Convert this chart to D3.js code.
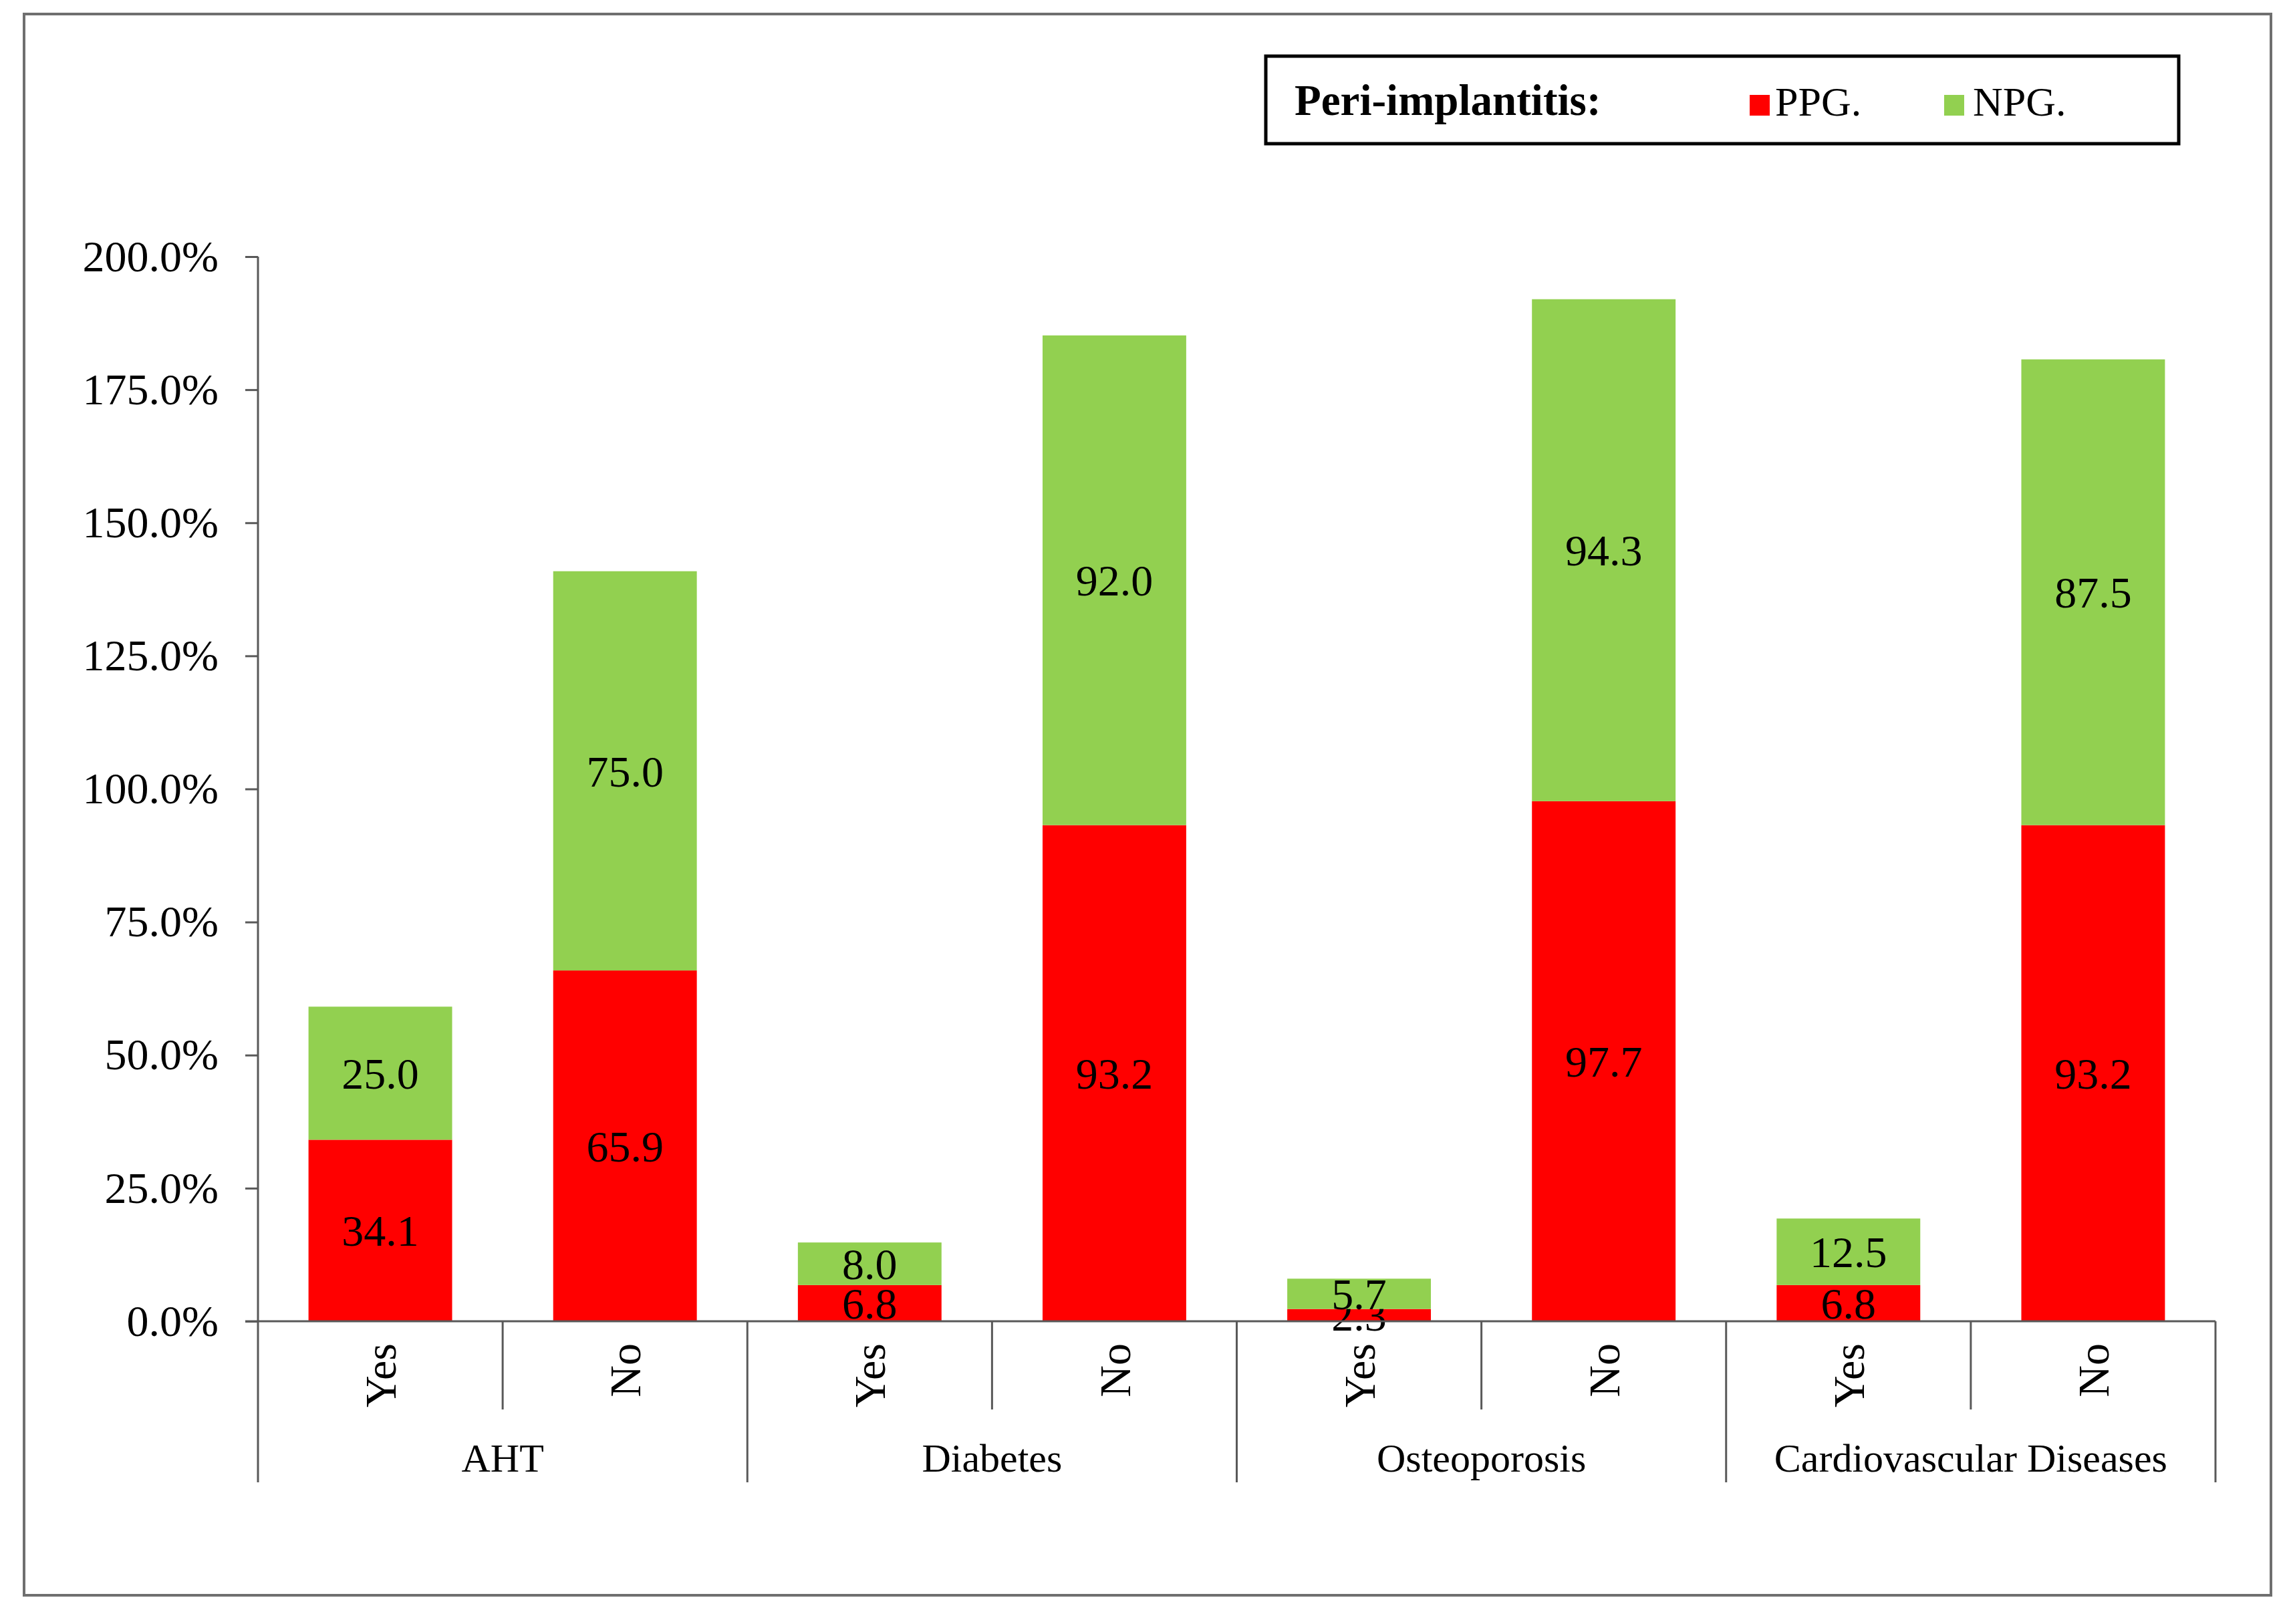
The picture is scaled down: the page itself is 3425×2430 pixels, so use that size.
<!DOCTYPE html>
<html>
<head>
<meta charset="utf-8">
<script src="https://cdn.jsdelivr.net/npm/d3@7"></script>
<style>
  body { margin: 0; background: #fff; }
  text { font-family: "Liberation Serif", "Times New Roman", serif; fill: #000; }
</style>
</head>
<body>
<div id="chart"></div>
<script>
// data
const groups = ["AHT", "Diabetes", "Osteoporosis", "Cardiovascular Diseases"]
const answers = ["Yes", "No"]
const ppg = [34.1, 65.9, 6.8, 93.2, 2.3, 97.7, 6.8, 93.2]
const npg = [25.0, 75.0, 8.0, 92.0, 5.7, 94.3, 12.5, 87.5]
const yTicks = [0, 25, 50, 75, 100, 125, 150, 175, 200]
const seriesNames = ["PPG.", "NPG."]
const colors = ["#ff0000", "#92d050"]

// layout
const W = 3425, H = 2430
const plot = {left: 386, right: 3315, top: 384, bottom: 1977}

const svg = d3.select("#chart").append("svg")
  .attr("width", W)
  .attr("height", H)

// outer frame
svg.append("rect")
  .attr("x", 36).attr("y", 21)
  .attr("width", 3362).attr("height", 2366)
  .attr("fill", "none")
  .attr("stroke", "#6f6f6f")
  .attr("stroke-width", 4)

// rows: one per bar
const rows = []
groups.forEach((g, gi) => {
  answers.forEach((a, ai) => {
    const i = gi * answers.length + ai
    rows.push({key: i, group: g, answer: a, PPG: ppg[i], NPG: npg[i]})
  })
})

const x = d3.scaleBand()
  .domain(rows.map(d => d.key))
  .range([plot.left, plot.right])
  .paddingInner(0.413)
  .paddingOuter(0.2065)

const y = d3.scaleLinear()
  .domain([0, 200])
  .range([plot.bottom, plot.top])

const stack = d3.stack().keys(["PPG", "NPG"])
const layers = stack(rows)

// bars
const layerG = svg.append("g").selectAll("g")
  .data(layers)
  .join("g")
  .attr("fill", (d, i) => colors[i])

layerG.selectAll("rect")
  .data(d => d)
  .join("rect")
  .attr("x", d => x(d.data.key))
  .attr("width", x.bandwidth())
  .attr("y", d => y(d[1]))
  .attr("height", d => y(d[0]) - y(d[1]))

// value labels (centred in each segment, like the original)
layerG.selectAll("text")
  .data(d => d)
  .join("text")
  .attr("x", d => x(d.data.key) + x.bandwidth() / 2)
  .attr("y", d => y((d[0] + d[1]) / 2))
  .attr("dy", "0.35em")
  .attr("text-anchor", "middle")
  .attr("font-size", 66)
  .attr("fill", "#000")
  .text(d => (d[1] - d[0]).toFixed(1))

// y axis
const yAxis = svg.append("g")
  .attr("transform", "translate(" + plot.left + ",0)")
  .call(d3.axisLeft(y).tickValues(yTicks)
    .tickFormat(d => d.toFixed(1) + "%")
    .tickSize(19).tickSizeOuter(0).tickPadding(40))
yAxis.select(".domain").remove()
yAxis.selectAll(".tick line").attr("stroke", "#595959").attr("stroke-width", 3)
yAxis.selectAll(".tick text")
  .attr("font-size", 66)
  .attr("font-family", "Liberation Serif")
  .attr("fill", "#000")

const lineColor = "#595959"
const step = x.step()
const catDepth = 2218, subDepth = 2109

// vertical axis line, running down through the category area
svg.append("line")
  .attr("x1", plot.left).attr("x2", plot.left)
  .attr("y1", y(200)).attr("y2", catDepth)
  .attr("stroke", lineColor).attr("stroke-width", 3)

// x axis baseline
svg.append("line")
  .attr("x1", plot.left - 19).attr("x2", plot.right)
  .attr("y1", y(0)).attr("y2", y(0))
  .attr("stroke", lineColor).attr("stroke-width", 3)

// category separators
const bounds = d3.range(1, rows.length + 1)
svg.append("g").selectAll("line")
  .data(bounds)
  .join("line")
  .attr("x1", i => plot.left + i * step)
  .attr("x2", i => plot.left + i * step)
  .attr("y1", y(0))
  .attr("y2", i => i % answers.length === 0 ? catDepth : subDepth)
  .attr("stroke", lineColor).attr("stroke-width", 3)

// Yes / No labels (rotated)
svg.append("g").selectAll("text")
  .data(rows)
  .join("text")
  .attr("transform", d => "translate(" + (x(d.key) + x.bandwidth() / 2) + ",2010) rotate(-90)")
  .attr("dy", "0.35em")
  .attr("text-anchor", "end")
  .attr("font-size", 66)
  .text(d => d.answer)

// group labels
svg.append("g").selectAll("text")
  .data(groups)
  .join("text")
  .attr("x", (d, gi) => plot.left + (gi + 0.5) * step * answers.length)
  .attr("y", 2202)
  .attr("text-anchor", "middle")
  .attr("font-size", 60)
  .text(d => d)

// legend
const legend = svg.append("g")
legend.append("rect")
  .attr("x", 1894).attr("y", 84)
  .attr("width", 1366).attr("height", 131)
  .attr("fill", "#fff")
  .attr("stroke", "#000")
  .attr("stroke-width", 5)

legend.append("text")
  .attr("x", 1937).attr("y", 172)
  .attr("font-size", 65)
  .attr("font-weight", "bold")
  .text("Peri-implantitis:")

const legendX = [2618, 2909]
const legendTextX = [2656, 2952]
seriesNames.forEach((name, i) => {
  legend.append("rect")
    .attr("x", legendX[i]).attr("y", 142)
    .attr("width", 30).attr("height", 31)
    .attr("fill", colors[i])
  legend.append("text")
    .attr("x", legendTextX[i]).attr("y", 173)
    .attr("font-size", 62)
    .text(name)
})
</script>
</body>
</html>
